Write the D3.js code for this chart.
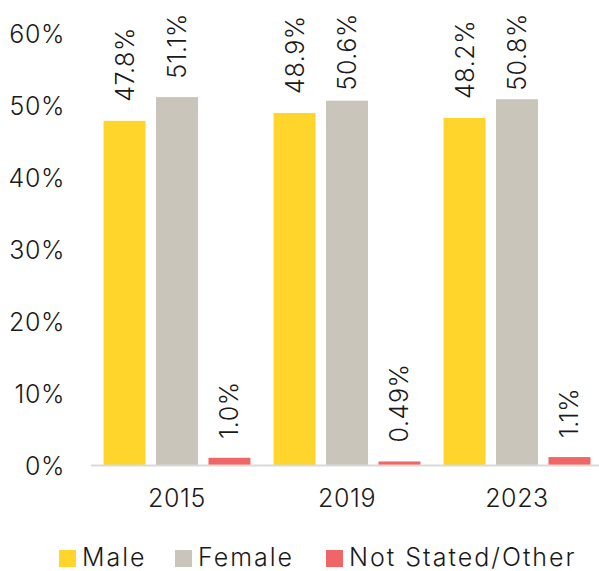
<!DOCTYPE html>
<html>
<head>
<meta charset="utf-8">
<script src="https://cdn.jsdelivr.net/npm/d3@7"></script>
<style>
  html, body { margin: 0; padding: 0; background: #fff; }
  svg { display: block; }
  text { font-family: Inter, "DejaVu Sans", sans-serif; font-weight: 300; fill: #1a1a1a; letter-spacing: 0.6px; }
  .legend text { letter-spacing: 2px; }
</style>
</head>
<body>
<svg id="chart" width="599" height="571"></svg>
<script>
// Survey years and respondent groups
const years = ["2015", "2019", "2023"];
const seriesNames = ["Male", "Female", "Not Stated/Other"];
const seriesColors = ["#FFD52B", "#C9C5BA", "#F06565"];

// Share of respondents (%) per year, one array per group
const male = [47.8, 48.9, 48.2];
const female = [51.1, 50.6, 50.8];
const notStated = [1.0, 0.49, 1.1];
const valueLabels = [
  ["47.8%", "48.9%", "48.2%"],
  ["51.1%", "50.6%", "50.8%"],
  ["1.0%", "0.49%", "1.1%"]
];
const yTicks = [0, 10, 20, 30, 40, 50, 60];

const seriesValues = [male, female, notStated];
const FONT = "25px";

const svg = d3.select("#chart");
const W = 599;
const plot = { left: 92, right: 602, top: 33, bottom: 465 };

const x0 = d3.scaleBand().domain(years).range([plot.left, plot.right]).padding(0);
const x1 = d3.scaleBand().domain(seriesNames).range([0, x0.bandwidth()])
  .paddingInner(0.2).paddingOuter(0.22);
const y = d3.scaleLinear().domain([0, 60]).range([plot.bottom, plot.top]);

function styleText(sel) {
  sel.style("font-family", 'Inter, "DejaVu Sans", sans-serif')
    .style("font-weight", 300)
    .style("font-size", FONT)
    .style("fill", "#1a1a1a");
}

// Y axis labels (no line, no ticks)
const yAxis = svg.append("g")
  .attr("transform", `translate(${plot.left - 27},0)`)
  .call(d3.axisLeft(y).tickValues(yTicks).tickFormat(d => d + "%").tickSize(0).tickPadding(0));
yAxis.select(".domain").remove();
yAxis.selectAll("text").call(styleText).attr("dy", "0.36em");

// Bars
const groups = svg.append("g").selectAll("g")
  .data(years)
  .join("g")
  .attr("transform", d => `translate(${x0(d)},0)`);

groups.each(function(yr, yi) {
  const g = d3.select(this);
  seriesNames.forEach((s, si) => {
    const v = seriesValues[si][yi];
    const bx = x1(s);
    const bw = x1.bandwidth();
    g.append("rect")
      .attr("x", bx)
      .attr("y", y(v))
      .attr("width", bw)
      .attr("height", y(0) - y(v))
      .attr("fill", seriesColors[si]);

    // Rotated value label above the bar, kept inside the top of the chart
    const cx = bx + bw / 2;
    const lbl = g.append("text")
      .text(valueLabels[si][yi])
      .call(styleText)
      .attr("text-anchor", "start")
      .attr("dominant-baseline", "central");
    const len = lbl.node().getComputedTextLength();
    const start = Math.max(y(v) - 19, 13 + len);
    lbl.attr("transform", `translate(${cx},${start}) rotate(-90)`);
  });
});

// Baseline
svg.append("line")
  .attr("x1", plot.left - 1).attr("x2", W)
  .attr("y1", y(0) + 0.5).attr("y2", y(0) + 0.5)
  .attr("stroke", "#d9d9d9").attr("stroke-width", 2);

// Category labels
const xAxis = svg.append("g")
  .attr("transform", `translate(0,${plot.bottom})`)
  .call(d3.axisBottom(x0).tickSize(0).tickPadding(0));
xAxis.select(".domain").remove();
xAxis.selectAll("text").call(styleText).attr("y", 33).attr("dy", "0.36em");

// Legend
const legendX = [59, 175, 326];
const legend = svg.append("g").attr("class", "legend");
seriesNames.forEach((s, i) => {
  legend.append("rect")
    .attr("x", legendX[i]).attr("y", 550)
    .attr("width", 17).attr("height", 17)
    .attr("fill", seriesColors[i]);
  legend.append("text")
    .attr("x", legendX[i] + 23).attr("y", 566)
    .call(styleText)
    .text(s);
});
</script>
</body>
</html>
